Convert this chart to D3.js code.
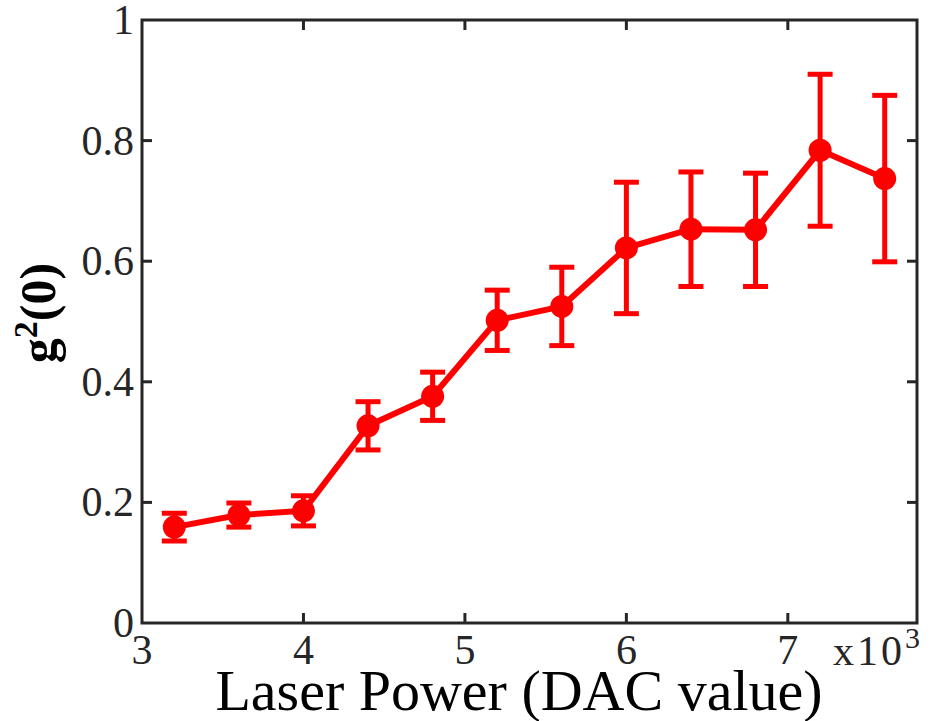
<!DOCTYPE html>
<html>
<head>
<meta charset="utf-8">
<script src="https://cdn.jsdelivr.net/npm/d3@7"></script>
<style>
  body { margin: 0; background: #fff; }
  text { font-family: "Liberation Serif", "Times New Roman", serif; fill: #262626; }
</style>
</head>
<body>
<svg class="svg" width="936" height="721"></svg>
<script>
// laser power (DAC value) and measured g2(0) with error
var power = [3200, 3600, 4000, 4400, 4800, 5200, 5600, 6000, 6400, 6800, 7200, 7600];
var g2 = [0.159, 0.179, 0.186, 0.327, 0.376, 0.502, 0.525, 0.622, 0.653, 0.652, 0.784, 0.737];
var err = [0.023, 0.020, 0.025, 0.040, 0.040, 0.050, 0.065, 0.109, 0.095, 0.094, 0.126, 0.138];
var xTicks = [3000, 4000, 5000, 6000, 7000];
var yTicks = [0, 0.2, 0.4, 0.6, 0.8, 1];

var svg = d3.select('.svg');
var mLeft = 142, mRight = 917, mTop = 20, mBottom = 623;
var axisColor = '#262626';
var red = '#ff0000';

var x = d3.scaleLinear().domain([3000, 7800]).range([mLeft, mRight]);
var y = d3.scaleLinear().domain([0, 1]).range([mBottom, mTop]);

// box + inward ticks on all four sides
var g = svg.append('g');
xTicks.slice(1).forEach(function (t) {
  g.append('line').attr('x1', x(t)).attr('x2', x(t)).attr('y1', mBottom).attr('y2', mBottom - 10);
  g.append('line').attr('x1', x(t)).attr('x2', x(t)).attr('y1', mTop).attr('y2', mTop + 10);
});
yTicks.slice(1, -1).forEach(function (t) {
  g.append('line').attr('x1', mLeft).attr('x2', mLeft + 10).attr('y1', y(t)).attr('y2', y(t));
  g.append('line').attr('x1', mRight).attr('x2', mRight - 10).attr('y1', y(t)).attr('y2', y(t));
});
g.selectAll('line').attr('stroke', axisColor).attr('stroke-width', 3);
g.append('rect')
  .attr('x', mLeft).attr('y', mTop)
  .attr('width', mRight - mLeft).attr('height', mBottom - mTop)
  .attr('fill', 'none').attr('stroke', axisColor).attr('stroke-width', 3);

// tick labels
svg.selectAll('.xt').data(xTicks).enter().append('text')
  .attr('class', 'xt')
  .attr('x', d => x(d))
  .attr('y', 664)
  .attr('text-anchor', 'middle')
  .attr('font-size', 42)
  .text(d => d / 1000);

svg.selectAll('.yt').data(yTicks).enter().append('text')
  .attr('class', 'yt')
  .attr('x', 134)
  .attr('y', d => y(d) + 14)
  .attr('text-anchor', 'end')
  .attr('font-size', 42)
  .text(d => d);

// exponent label
var ex = svg.append('text').attr('x', 833).attr('y', 665).attr('font-size', 42)
  .attr('letter-spacing', 3);
ex.append('tspan').text('x10');
ex.append('tspan').attr('dy', -17).attr('font-size', 30).attr('letter-spacing', 0).text('3');

// axis labels
svg.append('text')
  .attr('x', 519).attr('y', 710)
  .attr('text-anchor', 'middle')
  .attr('font-size', 58)
  .style('fill', '#000')
  .text('Laser Power (DAC value)');

var yl = svg.append('text')
  .attr('transform', 'translate(55,' + 313 + ') rotate(-90)')
  .attr('text-anchor', 'middle')
  .attr('font-size', 50)
  .attr('font-weight', 'bold')
  .style('fill', '#000');
yl.append('tspan').text('g');
yl.append('tspan').attr('dy', -18).attr('font-size', 34).text('2');
yl.append('tspan').attr('dy', 18).text('(0)');

// data line
var line = d3.line().x((d, i) => x(power[i])).y(d => y(d));
svg.append('path')
  .datum(g2)
  .attr('d', line)
  .attr('fill', 'none')
  .attr('stroke', red)
  .attr('stroke-width', 6)
  .attr('stroke-linejoin', 'round');

// error bars
var eb = svg.selectAll('.eb').data(g2).enter().append('g').attr('class', 'eb')
  .attr('stroke', red).attr('stroke-width', 5);
eb.append('line')
  .attr('x1', (d, i) => x(power[i])).attr('x2', (d, i) => x(power[i]))
  .attr('y1', (d, i) => y(d + err[i])).attr('y2', (d, i) => y(d - err[i]));
eb.append('line')
  .attr('x1', (d, i) => x(power[i]) - 12.5).attr('x2', (d, i) => x(power[i]) + 12.5)
  .attr('y1', (d, i) => y(d + err[i])).attr('y2', (d, i) => y(d + err[i]));
eb.append('line')
  .attr('x1', (d, i) => x(power[i]) - 12.5).attr('x2', (d, i) => x(power[i]) + 12.5)
  .attr('y1', (d, i) => y(d - err[i])).attr('y2', (d, i) => y(d - err[i]));

// markers
svg.selectAll('.pt').data(g2).enter().append('circle')
  .attr('class', 'pt')
  .attr('cx', (d, i) => x(power[i]))
  .attr('cy', d => y(d))
  .attr('r', 11.5)
  .attr('fill', red);
</script>
</body>
</html>
